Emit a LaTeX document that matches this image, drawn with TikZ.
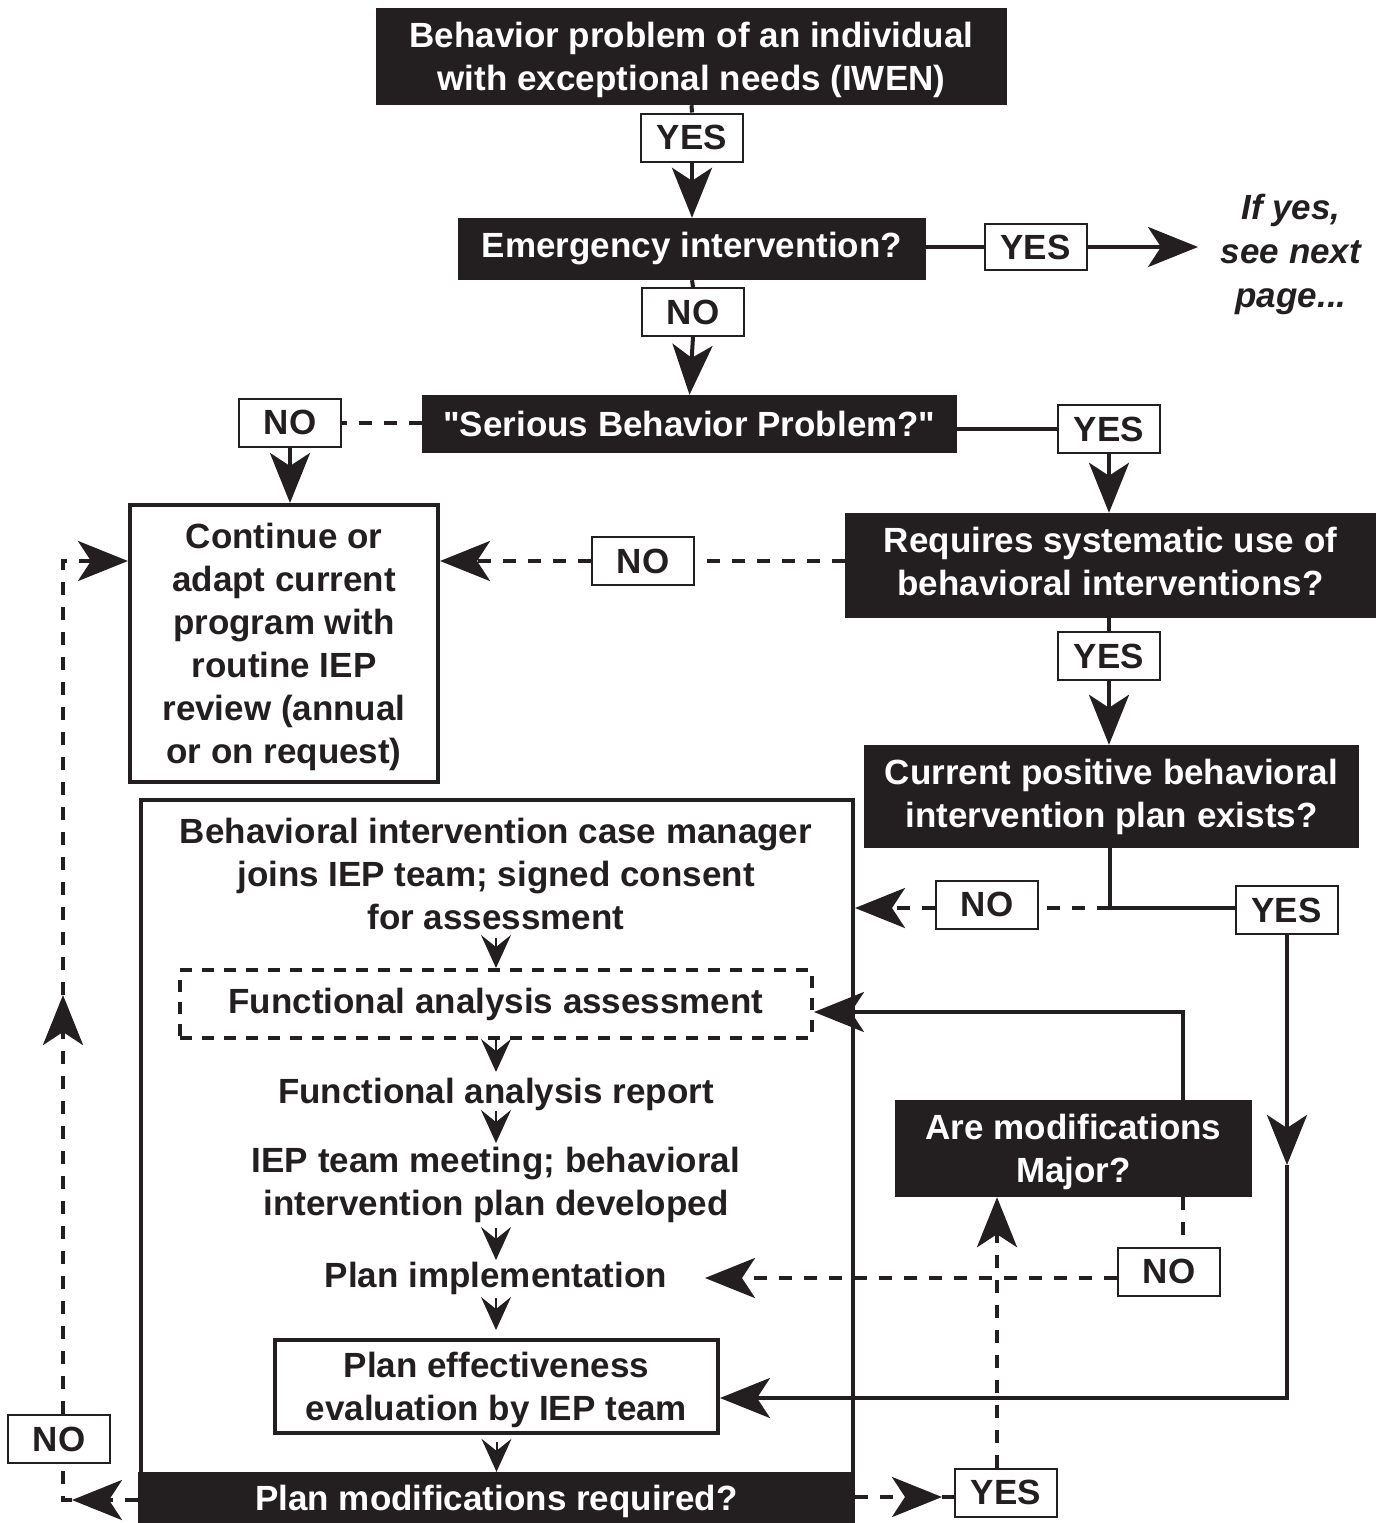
\documentclass[tikz,border=0pt]{standalone}
\usepackage{fontspec}
\setmainfont{Liberation Sans}[Ligatures=TeXOff]
\usetikzlibrary{arrows.meta,calc}
\definecolor{ink}{RGB}{35,31,32}
\tikzset{
  every node/.style={font=\fontsize{35}{43}\selectfont\bfseries, text=ink, align=center, inner sep=0pt},
  blackbox/.style={fill=ink, text=white},
  nodepth/.style={text depth=0pt},
  lbl/.style={draw=ink, line width=2pt, fill=white, minimum width=102pt, minimum height=48pt},
  framebox/.style={draw=ink, line width=4pt, fill=white},
  dashbox/.style={draw=ink, line width=4pt, dash pattern=on 12pt off 10pt},
  note/.style={font=\fontsize{35}{44}\selectfont\bfseries\itshape},
  conn/.style={draw=ink, line width=4pt},
  dconn/.style={conn, dash pattern=on 13pt off 12pt},
  bigtip/.style={-{Stealth[length=50pt,width=40pt,inset=13pt]}},
  smalltip/.style={draw=ink, line width=2pt, -{Stealth[length=33pt,width=30pt,inset=12pt]}},
}
\begin{document}
\begin{tikzpicture}[x=1pt,y=-1pt]
\useasboundingbox (0,0) rectangle (1381,1523);
% ---------- nodes ----------
\node[blackbox, nodepth, minimum width=631pt, minimum height=97pt] (prob) at (691.5,56.5) {Behavior problem of an individual\\with exceptional needs (IWEN)};
\node[lbl] (yes1) at (692,137.5) {YES};
\node[blackbox, minimum width=468pt, minimum height=62pt] (emerg) at (692,249) {Emergency intervention?};
\node[lbl, minimum height=46pt] (yes2) at (1035.5,247) {YES};
\node[note] (next) at (1291,254) {If yes,\\see next\\page...};
\coordinate (nextin) at (1198,247);
\node[lbl] (no1) at (693,312) {NO};
\node[blackbox, minimum width=535pt, minimum height=58pt] (serious) at (689.5,424) {"Serious Behavior Problem?"};
\node[lbl] (no2) at (290,422.5) {NO};
\node[lbl] (yes3) at (1109,429) {YES};
\node[framebox, nodepth, minimum width=308pt, minimum height=277pt] (cont) at (284,643.5) {Continue or\\adapt current\\program with\\routine IEP\\review (annual\\or on request)};
\node[blackbox, text depth=8pt, minimum width=531pt, minimum height=105pt] (req) at (1110.5,565.5) {Requires systematic use of\\behavioral interventions?};
\node[lbl] (no3) at (643,561) {NO};
\node[lbl] (yes4) at (1109,656) {YES};
\node[blackbox, minimum width=495pt, minimum height=103pt] (cur) at (1111.5,796.5) {Current positive behavioral\\intervention plan exists?};
\coordinate (split) at (1110,908);
\node[lbl] (no4) at (987,904.5) {NO};
\node[lbl] (yes5) at (1286.5,910) {YES};
% case box
\node[framebox, minimum width=712pt, minimum height=700pt] (case) at (497,1150) {};
\node (t1) at (496,874) {Behavioral intervention case manager\\joins IEP team; signed consent\\for assessment};
\node[dashbox, minimum width=632pt, minimum height=68pt] (fa) at (496,1004) {Functional analysis assessment};
\node[nodepth] (t2) at (496,1091) {Functional analysis report};
\node[nodepth] (t3) at (496,1181) {IEP team meeting; behavioral\\intervention plan developed};
\node[nodepth] (t4) at (496,1275) {Plan implementation};
\node[framebox, nodepth, minimum width=443pt, minimum height=93pt] (pe) at (496.5,1386.5) {Plan effectiveness\\evaluation by IEP team};
\node[blackbox, nodepth, minimum width=717pt, minimum height=51pt] (bar) at (496.5,1497.5) {Plan modifications required?};
\node[blackbox, nodepth, minimum width=357pt, minimum height=97pt] (mods) at (1073.5,1148.5) {Are modifications\\Major?};
\node[lbl] (no5) at (1169,1271.5) {NO};
\node[lbl] (yes6) at (1006,1492.5) {YES};
\node[lbl] (no6) at (59,1439) {NO};
% ---------- connectors ----------
\draw[conn] (prob.south) -- (yes1.north);
\draw[conn,bigtip] (yes1.south) -- (emerg.north);
\draw[conn] (emerg.east |- yes2.west) -- (yes2.west);
\draw[conn,bigtip] (yes2.east) -- (nextin);
\draw[conn] (emerg.south) -- (no1.north);
\draw[conn,bigtip] (no1.south) -- (serious.north);
\draw[dconn] (serious.west |- no2.east) -- (no2.east);
\draw[conn,bigtip] (no2.south) -- (no2.south |- cont.north);
\draw[conn] (serious.east |- yes3.west) -- (yes3.west);
\draw[conn,bigtip] (yes3.south) -- (yes3.south |- req.north);
\draw[dconn] (req.west |- no3.east) -- (no3.east);
\draw[dconn,bigtip] (no3.west) -- (cont.east |- no3.west);
\draw[conn] (yes4.north |- req.south) -- (yes4.north);
\draw[conn,bigtip] (yes4.south) -- (yes4.south |- cur.north);
\draw[conn] (split |- cur.south) -- (split) -- (yes5.west |- split);
\draw[dconn] (split) -- (no4.east |- split);
\draw[dconn,bigtip] (no4.west |- split) -- (case.east |- split);
% YES to plan effectiveness
\coordinate (rmid) at (1287,1165);
\coordinate (rc) at (1287,1398);
\draw[conn,bigtip] (yes5.south -| rmid) -- (rmid);
\draw[conn,bigtip] (rmid) -- (rc) -- (pe.east |- rc);
% major -> functional analysis
\coordinate (mu) at (1183,1012);
\draw[conn,bigtip] (mods.north -| mu) -- (mu) -- (fa.east |- mu);
\draw[dconn] (mods.south -| mu) -- (no5.north -| mu);
\coordinate (piend) at (705,1278);
\draw[dconn,bigtip] (no5.west |- piend) -- (piend);
% plan modifications required: yes
\coordinate (bmid) at (942,1497);
\draw[dconn,bigtip] (bar.east |- bmid) -- (bmid);
\draw[conn] (bmid) -- (yes6.west |- bmid);
\coordinate (umid) at (997,1400);
\draw[dconn,bigtip] (yes6.north -| umid) -- (mods.south -| umid);
% plan modifications required: no
\coordinate (lb) at (63,1500);
\coordinate (lbt) at (72,1500);
\coordinate (lmid) at (63,995);
\coordinate (lt) at (63,561);
\draw[dconn,bigtip] (bar.west |- lb) -- (lbt);
\draw[dconn] (lbt) -- (lb) -- (no6.south -| lb);
\draw[dconn,bigtip] (no6.north -| lb) -- (lmid);
\draw[dconn,bigtip] (lmid) -- (lt) -- (cont.west |- lt);
% small arrows inside case box
\draw[smalltip] ($(fa.north)+(0,-30)$) -- (fa.north);
\draw[smalltip] (496,1040) -- (496,1072);
\draw[smalltip] (496,1111) -- (496,1143);
\draw[smalltip] (496,1228) -- (496,1260);
\draw[smalltip] (496,1298) -- (496,1330);
\draw[smalltip] ($(bar.north)+(0,-30)$) -- (bar.north);
\end{tikzpicture}
\end{document}
